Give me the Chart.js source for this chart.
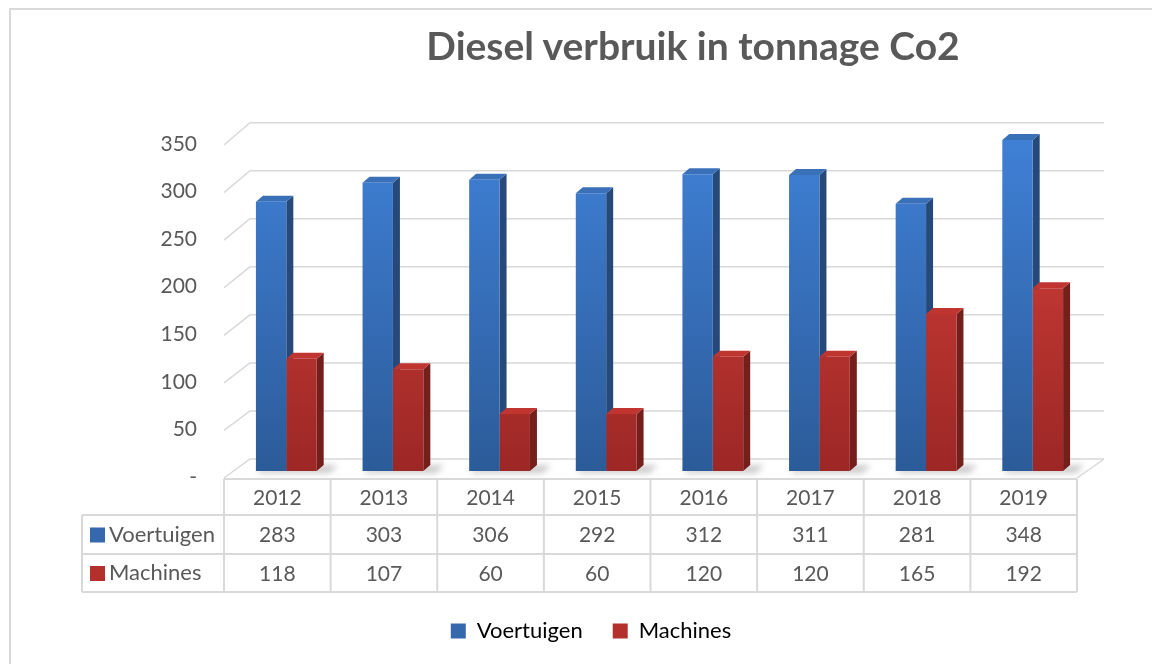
<!DOCTYPE html>
<html>
<head>
<meta charset="utf-8">
<script src="https://cdn.jsdelivr.net/npm/chart.js@4"></script>
<style>
  html, body { margin: 0; padding: 0; background: #fff; }
  #wrap { position: relative; width: 1152px; height: 664px; overflow: hidden; }
  #frame { position: absolute; left: 9px; top: 8px; width: 1200px; height: 700px;
           border-left: 2px solid #d9d9d9; border-top: 2px solid #d9d9d9; }
  #title { position: absolute; left: 693px; top: 45px; transform: translate(-50%, -50%);
           white-space: nowrap; font: bold 39px Lato, sans-serif; color: #595959; }
  canvas { position: absolute; left: 0; top: 0; }
</style>
</head>
<body>
<div id="wrap">
  <div id="frame"></div>
  <canvas id="chart" width="1152" height="664"></canvas>
  <div id="title">Diesel verbruik in tonnage Co2</div>
</div>
<script>
// Diesel verbruik — 3D kolommen met datatabel

const jaren = ["2012", "2013", "2014", "2015", "2016", "2017", "2018", "2019"];
const voertuigen = [283, 303, 306, 292, 312, 311, 281, 348];
const machines = [118, 107, 60, 60, 120, 120, 165, 192];
const yTicks = [0, 50, 100, 150, 200, 250, 300, 350];

const FONT = "Lato, sans-serif";
const TXT = "#595959";
const LINE = "#d9d9d9";
const DX = 7, DY = -6;       // diepte van de balken
const SHIFT = 9;             // balken staan iets naar achteren t.o.v. de tabel

const KLEUR = {
  blauw: { top: "#3f80d6", bot: "#2c5b99", side: "#27497a", cap: "#3a70b8", key: "#3568ad" },
  rood:  { top: "#d8423c", bot: "#9c2725", side: "#751f1d", cap: "#c13531", key: "#b3302d" },
};

function grad(k) {
  return (c) => {
    const ca = c.chart.chartArea;
    if (!ca) return k.top;
    const g = c.chart.ctx.createLinearGradient(0, ca.top, 0, ca.bottom);
    g.addColorStop(0, k.top);
    g.addColorStop(1, k.bot);
    return g;
  };
}

// achterwand, vloer en zijkanten van de balken
const achtergrond = {
  id: "achtergrond",
  beforeDatasetsDraw(chart) {
    const { ctx } = chart;
    const y = chart.scales.y, x = chart.scales.x;
    const base = y.getPixelForValue(0);
    const left = x.left - SHIFT, right = x.right - SHIFT;
    const back = (v) => base - 12 - (base - y.getPixelForValue(v)) * 1.01;
    const front = (v) => y.getPixelForValue(v) + 7;
    ctx.save();
    ctx.strokeStyle = LINE;
    ctx.lineWidth = 1.5;
    yTicks.forEach(v => {
      ctx.beginPath();
      ctx.moveTo(left, front(v));
      ctx.lineTo(left + 26, back(v));
      ctx.lineTo(right + 27, back(v));
      ctx.stroke();
    });
    ctx.beginPath();
    ctx.moveTo(right, front(0));
    ctx.lineTo(right + 27, back(0));
    ctx.stroke();

    // schaduw op de vloer
    const blauw = chart.getDatasetMeta(0).data, rood = chart.getDatasetMeta(1).data;
    ctx.filter = "blur(3px)";
    ctx.fillStyle = "rgba(0,0,0,0.22)";
    blauw.forEach((b, i) => {
      const r = rood[i];
      const l = b.x - b.width / 2, rr = r.x + r.width / 2 + DX;
      ctx.beginPath();
      ctx.moveTo(l + 4, base - 3);
      ctx.lineTo(rr + 14, base - 6);
      ctx.lineTo(rr + 6, base + 2);
      ctx.lineTo(l + 2, base + 2);
      ctx.closePath(); ctx.fill();
    });
    ctx.filter = "none";

    // zij- en bovenvlakken
    [blauw, rood].forEach((bars, di) => {
      const k = di === 0 ? KLEUR.blauw : KLEUR.rood;
      bars.forEach(bar => {
        const { x: bx, y: by, base: bb, width: w } = bar.getProps(["x", "y", "base", "width"], true);
        const l = bx - w / 2, r = bx + w / 2;
        ctx.fillStyle = k.side;
        ctx.beginPath();
        ctx.moveTo(r, by); ctx.lineTo(r + DX, by + DY);
        ctx.lineTo(r + DX, bb + DY); ctx.lineTo(r, bb);
        ctx.closePath(); ctx.fill();
        ctx.fillStyle = k.cap;
        ctx.beginPath();
        ctx.moveTo(l, by); ctx.lineTo(l + DX, by + DY);
        ctx.lineTo(r + DX, by + DY); ctx.lineTo(r, by);
        ctx.closePath(); ctx.fill();
      });
    });
    ctx.restore();
  },
  afterDraw(chart) {
    // datatabel onder de grafiek
    const { ctx } = chart;
    const x = chart.scales.x, y = chart.scales.y;
    const colW = (x.right - x.left) / jaren.length;
    const tLeft = x.left - SHIFT, tRight = x.right - SHIFT;
    const top = y.getPixelForValue(0) + 8;
    const rows = [top, top + 36, top + 75, top + 113];
    const labelLeft = 82;
    ctx.save();
    ctx.strokeStyle = LINE;
    ctx.lineWidth = 2;
    ctx.beginPath();
    ctx.moveTo(tLeft, rows[0]); ctx.lineTo(tRight, rows[0]);
    for (let i = 1; i < rows.length; i++) {
      ctx.moveTo(labelLeft, rows[i]); ctx.lineTo(tRight, rows[i]);
    }
    ctx.moveTo(labelLeft, rows[1]); ctx.lineTo(labelLeft, rows[3]);
    for (let i = 0; i <= jaren.length; i++) {
      const cx = tLeft + i * colW;
      ctx.moveTo(cx, rows[0]); ctx.lineTo(cx, rows[3]);
    }
    ctx.stroke();

    ctx.font = "21px " + FONT;
    ctx.fillStyle = TXT;
    ctx.textAlign = "center";
    ctx.textBaseline = "middle";
    const series = [voertuigen, machines];
    jaren.forEach((j, i) => {
      const cx = x.getPixelForValue(i) - SHIFT;
      ctx.fillText(j, cx, (rows[0] + rows[1]) / 2 + 1);
      series.forEach((s, r) => ctx.fillText(String(s[i]), cx, (rows[r + 1] + rows[r + 2]) / 2 + 1));
    });
    ctx.textAlign = "left";
    ctx.font = "22px " + FONT;
    chart.data.datasets.forEach((ds, r) => {
      const cy = (rows[r + 1] + rows[r + 2]) / 2;
      const k = r === 0 ? KLEUR.blauw : KLEUR.rood;
      ctx.fillStyle = k.key;
      ctx.fillRect(90, cy - 7, 15, 15);
      ctx.fillStyle = TXT;
      ctx.fillText(ds.label, 109, cy);
    });
    ctx.restore();
  },
};

new Chart(document.getElementById("chart"), {
  type: "bar",
  data: {
    labels: jaren,
    datasets: [
      { label: "Voertuigen", data: voertuigen, backgroundColor: grad(KLEUR.blauw) },
      { label: "Machines", data: machines, backgroundColor: grad(KLEUR.rood) },
    ],
  },
  options: {
    responsive: false,
    animation: false,
    layout: { padding: { top: 138, right: 66, bottom: 12, left: 96 } },
    categoryPercentage: 0.57,
    barPercentage: 1,
    scales: {
      x: {
        grid: { display: false, drawTicks: false },
        border: { display: false },
        ticks: { display: false },
        afterFit: (s) => { s.height = 119; },
      },
      y: {
        min: 0, max: 350,
        grid: { display: false, drawTicks: false },
        border: { display: false },
        ticks: {
          stepSize: 50, padding: 36, labelOffset: 6,
          color: TXT, font: { family: FONT, size: 21 },
          callback: (v) => v === 0 ? "-" : v,
        },
        afterFit: (s) => { s.width = 137; },
      },
    },
    plugins: {
      legend: {
        position: "bottom",
        labels: {
          color: TXT, font: { family: FONT, size: 22 },
          boxWidth: 15, boxHeight: 15, padding: 30,
          generateLabels: (chart) => chart.data.datasets.map((ds, i) => ({
            text: ds.label,
            fillStyle: i === 0 ? KLEUR.blauw.key : KLEUR.rood.key,
            strokeStyle: "transparent", lineWidth: 0, datasetIndex: i,
          })),
        },
      },
      tooltip: { enabled: false },
    },
  },
  plugins: [achtergrond],
});
</script>
</body>
</html>
